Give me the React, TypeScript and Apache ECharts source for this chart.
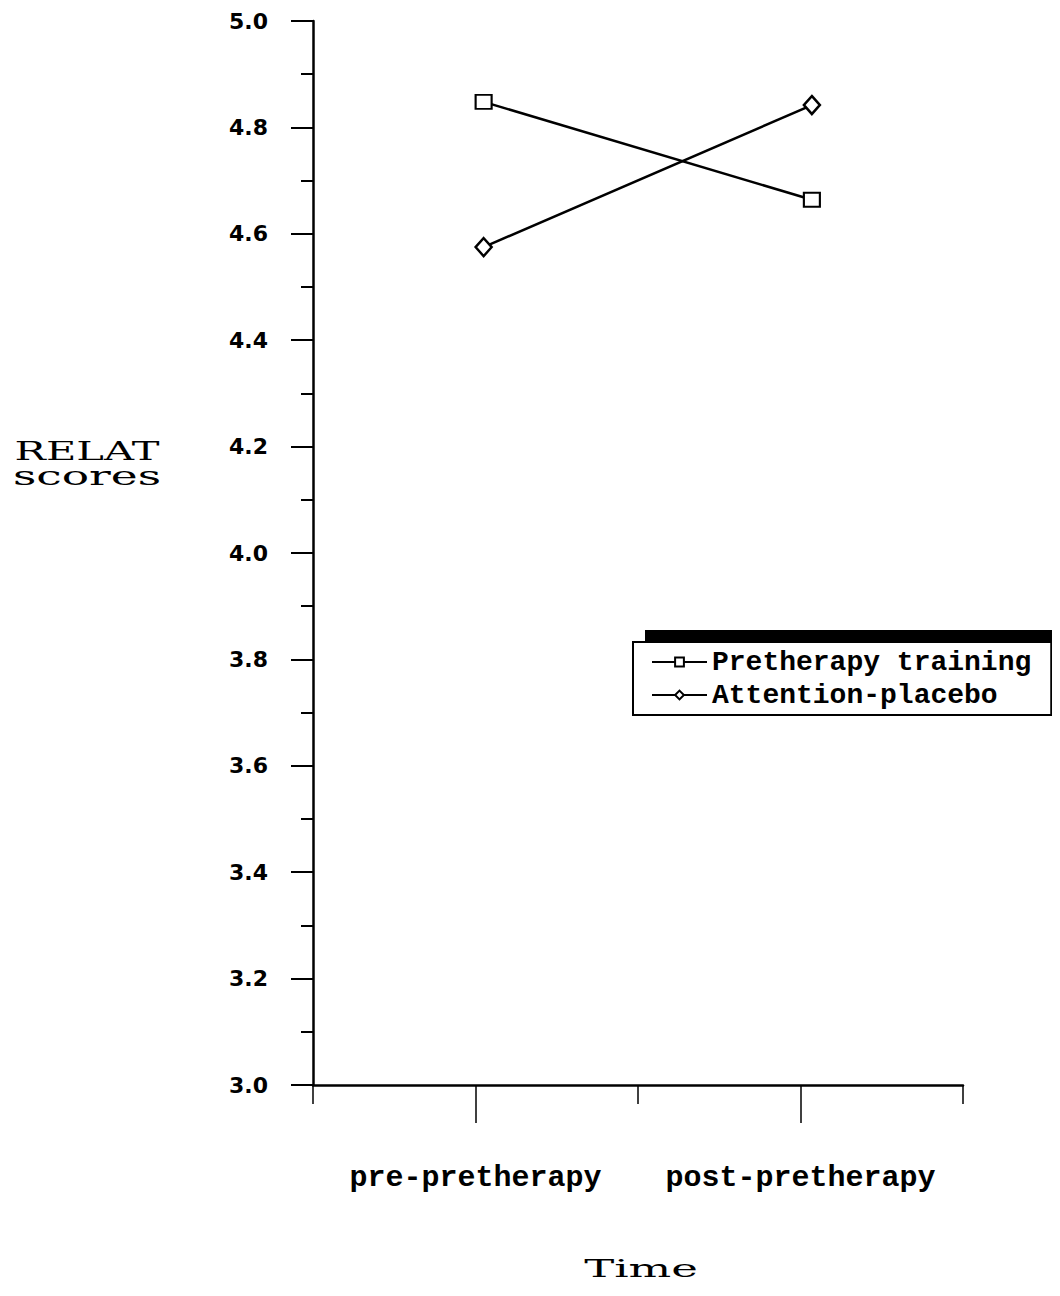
import React, { useEffect, useRef } from "react";
import * as echarts from "echarts";

const seriesNames = ["Pretherapy training", "Attention-placebo"];
const timeCategories = ["pre-pretherapy", "post-pretherapy"];
const timePositions = [1.05, 3.07];
const pretherapyScores = [4.848, 4.664];
const placeboScores = [4.575, 4.842];
const labelTicks = [1, 3];
const plainTicks = [0, 2, 4];

export default function App() {
  const ref = useRef<HTMLDivElement>(null);
  useEffect(() => {
    if (!ref.current) return;
    const chart = echarts.init(ref.current, undefined, { renderer: "svg" });
    const black = "#000";
    const toPairs = (vals: number[]) => vals.map((v, i) => [timePositions[i], v]);
    const catLabel = (v: number) => {
      const idx = labelTicks.indexOf(v);
      return idx >= 0 ? timeCategories[idx] : "";
    };
    chart.setOption({
      animation: false,
      backgroundColor: "#fff",
      grid: { left: 313, right: 97, top: 21, bottom: 211, containLabel: false },
      xAxis: [
        {
          type: "value",
          min: 0,
          max: 4,
          interval: 1,
          position: "bottom",
          axisLine: { show: true, lineStyle: { color: black, width: 2.5 } },
          axisTick: { show: true, customValues: labelTicks, length: 38, lineStyle: { color: black, width: 1.5 } },
          axisLabel: {
            show: true,
            customValues: labelTicks,
            formatter: (v: number) => catLabel(v),
            margin: 78,
            fontFamily: "Liberation Mono",
            fontWeight: "bold",
            fontSize: 30,
            color: black,
          },
          splitLine: { show: false },
        },
        {
          type: "value",
          min: 0,
          max: 4,
          interval: 1,
          position: "bottom",
          axisLine: { show: false },
          axisTick: { show: true, customValues: plainTicks, length: 19, lineStyle: { color: black, width: 1.5 } },
          axisLabel: { show: false },
          splitLine: { show: false },
        },
      ],
      yAxis: {
        type: "value",
        min: 3,
        max: 5,
        interval: 0.2,
        axisLine: { show: true, lineStyle: { color: black, width: 2.5 } },
        axisTick: { show: true, length: 22, lineStyle: { color: black, width: 2 } },
        minorTick: { show: true, splitNumber: 2, length: 12, lineStyle: { color: black, width: 2 } },
        axisLabel: {
          margin: 45,
          formatter: (v: number) => v.toFixed(1),
          fontFamily: "DejaVu Sans",
          fontWeight: "bold",
          fontSize: 22,
          color: black,
        },
        splitLine: { show: false },
      },
      legend: {
        orient: "vertical",
        left: 633,
        top: 642,
        padding: [6, 20, 6, 18],
        itemGap: 5,
        itemWidth: 55,
        itemHeight: 11,
        backgroundColor: "#fff",
        borderColor: black,
        borderWidth: 2,
        z: 10,
        textStyle: { fontFamily: "Liberation Mono", fontWeight: "bold", fontSize: 28, color: black },
        data: seriesNames,
      },
      graphic: [
        {
          type: "rect",
          left: 645,
          top: 630,
          z: 1,
          shape: { width: 420, height: 78 },
          style: { fill: black },
        },
        {
          type: "text",
          x: 87,
          y: 451,
          scaleX: 1.6,
          style: { text: "RELAT", font: "26px 'DejaVu Serif'", fill: black, align: "center", verticalAlign: "middle" },
        },
        {
          type: "text",
          x: 87,
          y: 476,
          scaleX: 1.75,
          style: { text: "scores", font: "26px 'DejaVu Serif'", fill: black, align: "center", verticalAlign: "middle" },
        },
        {
          type: "text",
          x: 641,
          y: 1268,
          scaleX: 1.8,
          style: { text: "Time", font: "25px 'DejaVu Serif'", fill: black, align: "center", verticalAlign: "middle" },
        },
      ],
      series: [
        {
          name: seriesNames[0],
          type: "line",
          xAxisIndex: 0,
          data: toPairs(pretherapyScores),
          symbol: "rect",
          symbolSize: [16, 14],
          lineStyle: { color: black, width: 2.5 },
          itemStyle: { color: "#fff", borderColor: black, borderWidth: 2 },
        },
        {
          name: seriesNames[1],
          type: "line",
          xAxisIndex: 0,
          data: toPairs(placeboScores),
          symbol: "diamond",
          symbolSize: [16, 18],
          lineStyle: { color: black, width: 2.5 },
          itemStyle: { color: "#fff", borderColor: black, borderWidth: 2.5 },
        },
      ],
    });
    return () => chart.dispose();
  }, []);
  return <div ref={ref} style={{ width: 1060, height: 1296, margin: -8 }} />;
}
